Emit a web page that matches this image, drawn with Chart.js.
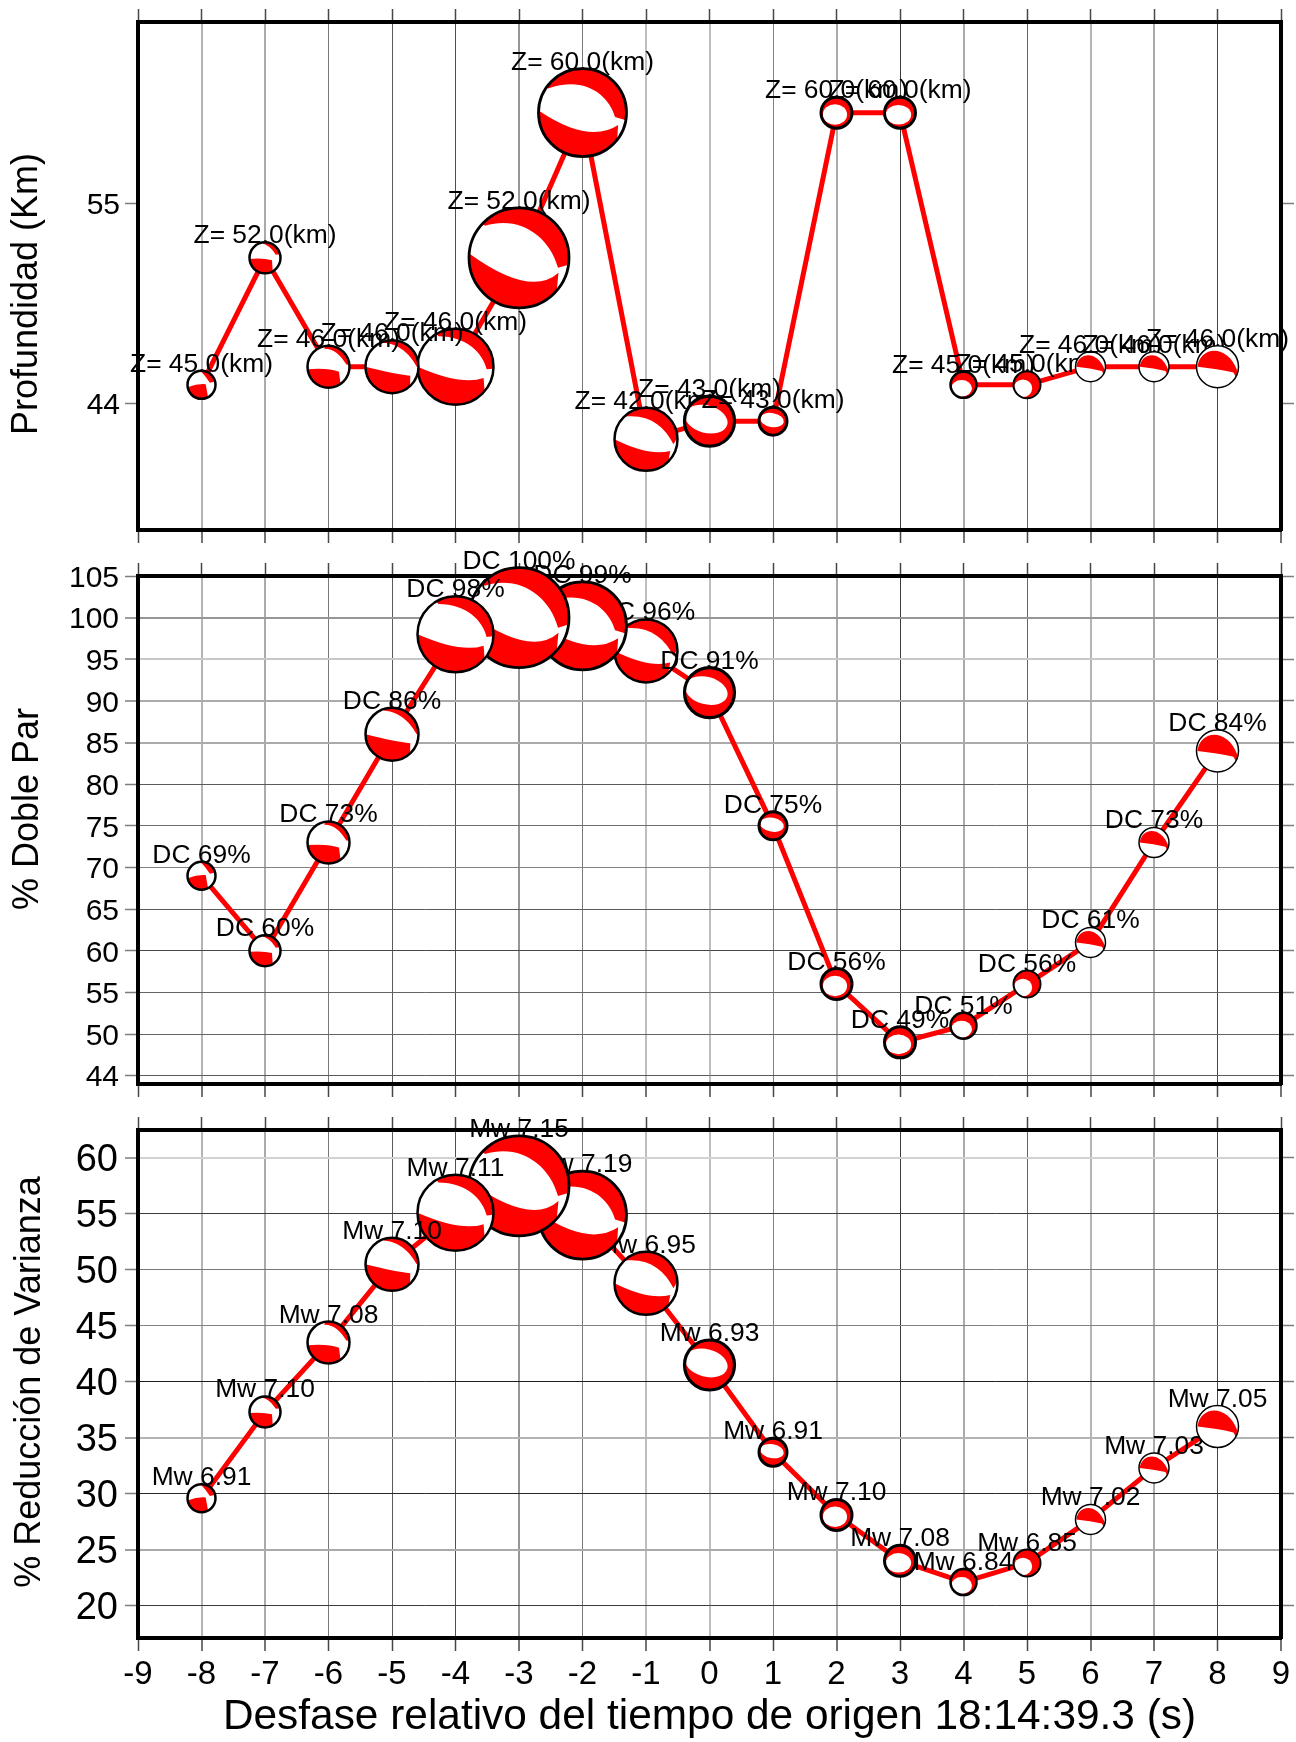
<!DOCTYPE html>
<html lang="es">
<head>
<meta charset="utf-8">
<title>Desfase relativo del tiempo de origen</title>
<style>
  html, body { margin: 0; padding: 0; background: #fff; }
  body { position: relative; width: 1296px; height: 1742px; overflow: hidden; }
  canvas { position: absolute; left: 0; }
</style>
</head>
<body>
<canvas id="panelDepth"></canvas>
<canvas id="panelDc"></canvas>
<canvas id="panelVr"></canvas>
<script src="https://cdn.jsdelivr.net/npm/chart.js@4/dist/chart.umd.min.js"></script>
<script>
var timeShift = [-8, -7, -6, -5, -4, -3, -2, -1, 0, 1, 2, 3, 4, 5, 6, 7, 8];
var xTicks = [-9, -8, -7, -6, -5, -4, -3, -2, -1, 0, 1, 2, 3, 4, 5, 6, 7, 8, 9];

var depthKm = [45, 52, 46, 46, 46, 52, 60, 42, 43, 43, 60, 60, 45, 45, 46, 46, 46];
var depthLabels = ['Z= 45.0(km)', 'Z= 52.0(km)', 'Z= 46.0(km)', 'Z= 46.0(km)', 'Z= 46.0(km)', 'Z= 52.0(km)',
  'Z= 60.0(km)', 'Z= 42.0(km)', 'Z= 43.0(km)', 'Z= 43.0(km)', 'Z= 60.0(km)', 'Z= 60.0(km)', 'Z= 45.0(km)',
  'Z= 45.0(km)', 'Z= 46.0(km)', 'Z= 46.0(km)', 'Z= 46.0(km)'];
var depthTicks = [44, 55];
var depthTickLabels = ['44', '55'];

var doubleCouple = [69, 60, 73, 86, 98, 100, 99, 96, 91, 75, 56, 49, 51, 56, 61, 73, 84];
var dcLabels = doubleCouple.map(function(v) { return 'DC ' + v + '%'; });
// the lowest tick sits at 45 in the original but is printed as 44
var dcTicks = [45, 50, 55, 60, 65, 70, 75, 80, 85, 90, 95, 100, 105];
var dcTickLabels = ['44', '50', '55', '60', '65', '70', '75', '80', '85', '90', '95', '100', '105'];

var varianceReduction = [29.6, 37.3, 43.5, 50.5, 55.1, 57.5, 54.9, 48.8, 41.5, 33.7, 28.1, 24, 22.1, 23.8, 27.7, 32.3, 36];
var mwLabels = ['Mw 6.91', 'Mw 7.10', 'Mw 7.08', 'Mw 7.10', 'Mw 7.11', 'Mw 7.15', 'Mw 7.19', 'Mw 6.95', 'Mw 6.93',
  'Mw 6.91', 'Mw 7.10', 'Mw 7.08', 'Mw 6.84', 'Mw 6.85', 'Mw 7.02', 'Mw 7.03', 'Mw 7.05'];
var vrTicks = [20, 25, 30, 35, 40, 45, 50, 55, 60];
var vrTickLabels = ['20', '25', '30', '35', '40', '45', '50', '55', '60'];

// grey level of each grid line, the original's lines are unevenly resampled
var xGridGray = [120, 180, 170, 120, 90, 80, 150, 120, 190, 190, 130, 170, 60, 170, 100, 180, 170, 70, 170];
var dcGridGray = [90, 100, 100, 70, 90, 130, 110, 90, 170, 170, 200, 150, 120];
var vrGridGray = [60, 170, 40, 180, 30, 130, 120, 60, 210];

// beachball look, one entry per time shift (unit disc coordinates)
var ballRadius = [14, 15.5, 21, 26.5, 38, 50, 44, 31.5, 25, 14, 15.5, 15.5, 13, 13.5, 15, 15, 21];
var ballStroke = [2.5, 2.5, 2.5, 2.5, 2.5, 2.8, 2.8, 2.5, 3.2, 3, 3, 3, 2.5, 2, 1.5, 1.5, 1.5];
var capShape = { left: [-0.95, 0], c1: [-0.85, -0.95], c2: [0.45, -1.15], right: [0.95, 0.2],
  edge: [0.88, 0.5], corner: [0.76, 0.28], ctrl: [0, 0.1] };
var ballShapes = [
  { top: [-90, -14, 0.6, -0.15, 0.45, -0.35, 0.2, -0.75, 0, -0.9], low: [170, -0.3, -0.1, 0.3, -0.05, 62] },
  { top: [-95, -13, 0.7, -0.2, 0.5, -0.5, 0.25, -0.8, -0.15, -0.92], low: [176, -0.1, 0, 0.45, 0.15, 60] },
  { top: [-100, -5, 0.85, -0.1, 0.6, -0.5, 0.3, -0.85, -0.2, -0.85], low: [173, 0, 0.05, 0.5, 0.24, 55] },
  { top: [-108, -2, 0.93, 0, 0.75, -0.35, 0.35, -0.85, -0.3, -0.9], low: [180, 0.1, 0.28, 0.69, 0.34, 47] },
  { top: [-120, 3, 0.82, 0.07, 0.72, -0.35, 0.3, -0.8, -0.45, -0.8], low: [180, 0.15, 0.5, 0.74, 0.3, 40] },
  { top: [-137, 8, 0.78, 0.2, 0.6, -0.45, 0, -0.85, -0.68, -0.64], low: [185, 0.23, 0.8, 0.79, 0.3, 41] },
  { top: [-145, 10, 0.74, 0.1, 0.6, -0.4, 0.05, -0.85, -0.78, -0.55], low: [183, 0.15, 0.72, 0.81, 0.28, 38] },
  { top: [-131, -3, 0.87, 0.16, 0.6, -0.4, 0.1, -0.8, -0.65, -0.72], low: [180, 0.1, 0.55, 0.77, 0.37, 45] },
  { ring: [-0.13, -0.08, 0.87, 0.55, 15] },
  { ring: [-0.07, -0.08, 0.85, 0.5, 10] },
  { ring: [-0.1, 0.12, 0.78, 0.66, 0] },
  { ring: [-0.1, 0.13, 0.82, 0.63, 0] },
  { ring: [-0.15, 0.27, 0.8, 0.65, 0] },
  { ring: [-0.3, 0.25, 0.68, 0.65, 0] },
  { cap: capShape }, { cap: capShape }, { cap: capShape }
];

var FONT = '"Liberation Sans", Arial, sans-serif';
var RED = '#ff0000';
var TICK = 'rgb(70,70,70)';
var TICK_Y = 'rgb(125,125,125)';

function toRad(d) { return d * Math.PI / 180; }

function grayColor(levels) {
  return function(ctx) {
    var g = levels[ctx.index];
    return 'rgb(' + g + ',' + g + ',' + g + ')';
  };
}

// the light lines in the original are the ones smeared over two pixels
function grayWidth(levels) {
  return function(ctx) { return levels[ctx.index] > 140 ? 2 : 1; };
}

function drawBall(ctx, x, y, r, shape, stroke) {
  ctx.save();
  ctx.translate(x, y);
  ctx.scale(r, r);

  ctx.beginPath();
  ctx.arc(0, 0, 1, 0, Math.PI * 2);
  ctx.fillStyle = '#fff';
  ctx.fill();
  ctx.save();
  ctx.clip();
  ctx.fillStyle = RED;

  if (shape.ring) {
    var e = shape.ring;
    ctx.fillRect(-1.1, -1.1, 2.2, 2.2);
    ctx.beginPath();
    ctx.ellipse(e[0], e[1], e[2], e[3], toRad(e[4]), 0, Math.PI * 2);
    ctx.fillStyle = '#fff';
    ctx.fill();
  } else if (shape.cap) {
    var c = shape.cap;
    ctx.beginPath();
    ctx.moveTo(c.left[0], c.left[1]);
    ctx.bezierCurveTo(c.c1[0], c.c1[1], c.c2[0], c.c2[1], c.right[0], c.right[1]);
    ctx.lineTo(c.edge[0], c.edge[1]);
    ctx.lineTo(c.corner[0], c.corner[1]);
    ctx.quadraticCurveTo(c.ctrl[0], c.ctrl[1], c.left[0], c.left[1]);
    ctx.fill();
  } else {
    var t = shape.top;
    ctx.beginPath();
    ctx.arc(0, 0, 1, toRad(t[0]), toRad(t[1]));
    ctx.lineTo(t[2], t[3]);
    ctx.bezierCurveTo(t[4], t[5], t[6], t[7], t[8], t[9]);
    ctx.closePath();
    ctx.fill();

    var l = shape.low;
    ctx.beginPath();
    ctx.moveTo(Math.cos(toRad(l[0])), Math.sin(toRad(l[0])));
    ctx.quadraticCurveTo(l[1], l[2], l[3], l[4]);
    ctx.lineTo(Math.cos(toRad(l[5])), Math.sin(toRad(l[5])));
    ctx.arc(0, 0, 1, toRad(l[5]), toRad(l[0]));
    ctx.closePath();
    ctx.fill();
  }
  ctx.restore();

  ctx.beginPath();
  ctx.arc(0, 0, 1, 0, Math.PI * 2);
  ctx.restore();
  ctx.lineWidth = stroke;
  ctx.strokeStyle = '#000';
  ctx.stroke();
}

// beachballs and their captions, stacked in the original's file order (-1..-8, then 0..8)
var ballPlugin = {
  id: 'ballPlugin',
  afterDatasetsDraw: function(chart) {
    var ctx = chart.ctx;
    var labels = chart.options.plugins.ballPlugin.labels;
    var points = chart.getDatasetMeta(0).data;
    var order = timeShift.map(function(_, i) { return i; }).sort(function(a, b) {
      return String(timeShift[a]) < String(timeShift[b]) ? -1 : 1;
    });
    ctx.save();
    ctx.font = '26.4px ' + FONT;
    ctx.textAlign = 'center';
    ctx.textBaseline = 'alphabetic';
    order.forEach(function(i) {
      var r = ballRadius[i];
      ctx.fillStyle = '#000';
      ctx.fillText(labels[i], points[i].x, points[i].y - r + 1);
      drawBall(ctx, points[i].x, points[i].y, r, ballShapes[i], ballStroke[i]);
    });
    ctx.restore();
  },
};

// y titles are not centred on the axis in the original, so they are placed by hand
var yTitlePlugin = {
  id: 'yTitlePlugin',
  afterDraw: function(chart) {
    var o = chart.options.plugins.yTitlePlugin;
    var ctx = chart.ctx;
    ctx.save();
    ctx.translate(o.x, o.y);
    ctx.rotate(-Math.PI / 2);
    ctx.font = '36px ' + FONT;
    ctx.textAlign = 'center';
    ctx.textBaseline = 'middle';
    ctx.fillStyle = '#000';
    ctx.fillText(o.text, 0, 0);
    ctx.restore();
  },
};

// tick labels would otherwise push the plot area in by half a label height
function fixedWidth(w) {
  return function(scale) {
    scale.width = w;
    scale.paddingTop = 0;
    scale.paddingBottom = 0;
  };
}
function fixedHeight(h) { return function(scale) { scale.height = h; }; }
function fixedTicks(values) {
  return function(scale) {
    scale.ticks = values.map(function(v) { return { value: v }; });
  };
}

// y labels sit a little under their tick in the original
function nudgeLabels(dy) {
  return function(scale) {
    if (scale._nudged) return;
    scale._nudged = true;
    var draw = scale.drawLabels;
    scale.drawLabels = function(area) {
      var ctx = scale.ctx;
      ctx.save();
      ctx.translate(0, dy);
      draw.call(scale, area);
      ctx.restore();
    };
  };
}

/**
 * Builds one of the three stacked panels.
 */
function renderPanel(canvasId, values, labels, p) {
  var canvas = document.getElementById(canvasId);
  canvas.width = 1296;
  canvas.height = p.canvasBottom - p.canvasTop;
  canvas.style.top = p.canvasTop + 'px';
  canvas.style.width = '1296px';
  canvas.style.height = canvas.height + 'px';

  var plotLeft = 138;
  var plotRight = 1281;
  var points = timeShift.map(function(x, i) { return { x: x, y: values[i] }; });
  var xGrid = { color: grayColor(xGridGray), lineWidth: grayWidth(xGridGray), tickColor: TICK, tickWidth: 1.5, tickLength: 13 };
  var yGrid = { tickColor: TICK_Y, tickWidth: 1.5, tickLength: 13, drawOnChartArea: !!p.yGridGray };
  if (p.yGridGray) {
    yGrid.color = grayColor(p.yGridGray);
    yGrid.lineWidth = grayWidth(p.yGridGray);
  }
  var frame = { display: true, color: '#000', width: 4 };

  return new Chart(canvas, {
    type: 'line',
    data: {
      datasets: [{
        data: points,
        borderColor: RED,
        borderWidth: 5,
        pointRadius: 0,
        tension: 0,
        fill: false,
        clip: false,
      }],
    },
    plugins: [ballPlugin, yTitlePlugin],
    options: {
      responsive: false,
      animation: false,
      parsing: false,
      layout: { padding: 0 },
      plugins: {
        legend: { display: false },
        tooltip: { enabled: false },
        ballPlugin: { labels: labels },
        yTitlePlugin: { text: p.yTitle, x: p.yTitleX, y: p.yTitleY - p.canvasTop },
      },
      scales: {
        x: {
          type: 'linear',
          position: 'bottom',
          min: -9,
          max: 9,
          grid: xGrid,
          border: frame,
          afterBuildTicks: fixedTicks(xTicks),
          afterFit: fixedHeight(p.canvasBottom - p.plotBottom),
          ticks: {
            display: !!p.xTitle,
            autoSkip: false,
            maxRotation: 0,
            color: '#000',
            padding: 4,
            font: { family: FONT, size: 33 },
          },
          title: {
            display: !!p.xTitle,
            text: p.xTitle,
            color: '#000',
            padding: { top: 0, bottom: 3 },
            font: { family: FONT, size: 42.4, lineHeight: 1 },
          },
        },
        x2: {
          type: 'linear',
          position: 'top',
          min: -9,
          max: 9,
          grid: { tickColor: TICK, tickWidth: 1.5, tickLength: 13, drawOnChartArea: false },
          border: frame,
          afterBuildTicks: fixedTicks(xTicks),
          afterFit: fixedHeight(p.plotTop - p.canvasTop),
          ticks: { display: false, autoSkip: false },
        },
        y: {
          type: 'linear',
          position: 'left',
          min: p.yMin,
          max: p.yMax,
          grid: yGrid,
          border: frame,
          afterBuildTicks: fixedTicks(p.yTicks),
          afterFit: fixedWidth(plotLeft),
          afterUpdate: nudgeLabels(2.5),
          ticks: {
            autoSkip: false,
            color: '#000',
            padding: p.yTickPadding,
            font: { family: FONT, size: p.yTickSize },
            callback: function(value, index) { return p.yTickLabels[index]; },
          },
        },
        y2: {
          type: 'linear',
          position: 'right',
          min: p.yMin,
          max: p.yMax,
          grid: { tickColor: TICK_Y, tickWidth: 1.5, tickLength: 13, drawOnChartArea: false },
          border: frame,
          afterBuildTicks: fixedTicks(p.yTicks),
          afterFit: fixedWidth(1296 - plotRight),
          ticks: { display: false, autoSkip: false },
        },
      },
    },
  });
}

renderPanel('panelDepth', depthKm, depthLabels, {
  canvasTop: 0, canvasBottom: 546, plotTop: 22, plotBottom: 530,
  yMin: 37, yMax: 65, yTicks: depthTicks, yTickLabels: depthTickLabels,
  yTickSize: 30, yTickPadding: 5,
  yTitle: 'Profundidad (Km)', yTitleX: 27, yTitleY: 294,
});

renderPanel('panelDc', doubleCouple, dcLabels, {
  canvasTop: 534, canvasBottom: 1100, plotTop: 576, plotBottom: 1084,
  yMin: 44, yMax: 105, yTicks: dcTicks, yTickLabels: dcTickLabels,
  yTickSize: 30, yTickPadding: 6, yGridGray: dcGridGray,
  yTitle: '% Doble Par', yTitleX: 28, yTitleY: 809,
});

renderPanel('panelVr', varianceReduction, mwLabels, {
  canvasTop: 1100, canvasBottom: 1742, plotTop: 1130, plotBottom: 1638,
  yMin: 17.1, yMax: 62.5, yTicks: vrTicks, yTickLabels: vrTickLabels,
  yTickSize: 38, yTickPadding: 7, yGridGray: vrGridGray,
  yTitle: '% Reducción de Varianza', yTitleX: 30, yTitleY: 1382,
  xTitle: 'Desfase relativo del tiempo de origen 18:14:39.3 (s)',
});
</script>
</body>
</html>
